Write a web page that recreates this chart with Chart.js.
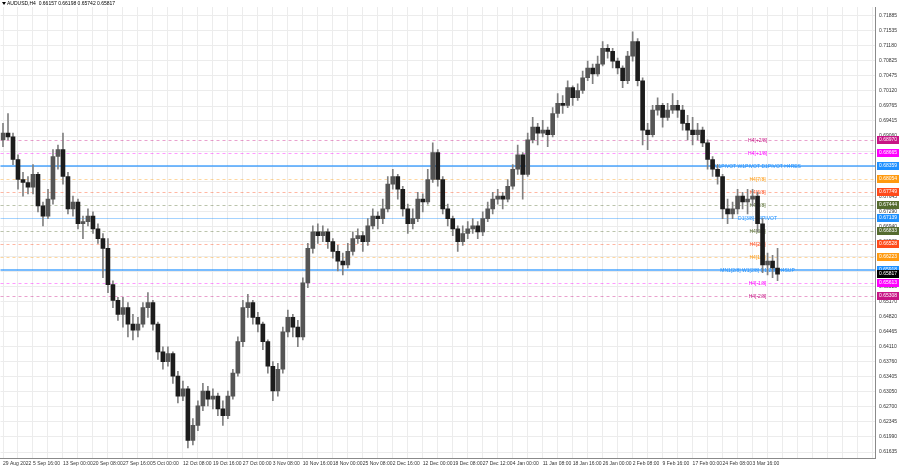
<!DOCTYPE html>
<html>
<head>
<meta charset="utf-8">
<script src="https://cdn.jsdelivr.net/npm/chart.js@4.4.1/dist/chart.umd.min.js"></script>
<style>
html, body { margin: 0; padding: 0; background: #fff; }
canvas { display: block; }
</style>
</head>
<body>
<canvas id="chart" width="900" height="468"></canvas>
<script>
// header line of the terminal window
const symbolTitle = 'AUDUSD,H4  0.66157 0.66198 0.65742 0.65817';

// date labels, one every 6 buckets
const dateLabels = ['29 Aug 2022', '5 Sep 16:00', '13 Sep 00:00', '20 Sep 08:00', '27 Sep 16:00',
    '5 Oct 00:00', '12 Oct 08:00', '19 Oct 16:00', '27 Oct 00:00', '3 Nov 08:00', '10 Nov 16:00',
    '18 Nov 00:00', '25 Nov 08:00', '2 Dec 16:00', '12 Dec 00:00', '19 Dec 08:00', '27 Dec 12:00',
    '4 Jan 00:00', '11 Jan 08:00', '18 Jan 16:00', '26 Jan 00:00', '2 Feb 08:00', '9 Feb 16:00',
    '17 Feb 00:00', '24 Feb 08:00', '3 Mar 16:00'];

// price buckets (each one groups a few H4 bars)
const openPrices = [0.6897, 0.6913, 0.6904, 0.6851, 0.6804, 0.6797, 0.6786, 0.6816, 0.6742, 0.6718,
    0.6758, 0.6858, 0.6874, 0.6811, 0.6735, 0.6751, 0.6700, 0.6705, 0.6718, 0.6688,
    0.6665, 0.6642, 0.6557, 0.6520, 0.6487, 0.6503, 0.6464, 0.6450, 0.6464, 0.6503,
    0.6515, 0.6464, 0.6399, 0.6376, 0.6395, 0.6342, 0.6295, 0.6312, 0.6191, 0.6226,
    0.6272, 0.6307, 0.6288, 0.6295, 0.6265, 0.6249, 0.6295, 0.6349, 0.6423, 0.6503,
    0.6515, 0.6480, 0.6464, 0.6423, 0.6365, 0.6307, 0.6358, 0.6446, 0.6480, 0.6457,
    0.6434, 0.6561, 0.6642, 0.6681, 0.6672, 0.6681, 0.6658, 0.6635, 0.6612, 0.6603,
    0.6635, 0.6665, 0.6672, 0.6658, 0.6695, 0.6718, 0.6712, 0.6735, 0.6793, 0.6811,
    0.6781, 0.6735, 0.6700, 0.6712, 0.6758, 0.6751, 0.6804, 0.6867, 0.6804, 0.6735,
    0.6712, 0.6688, 0.6658, 0.6677, 0.6688, 0.6695, 0.6681, 0.6712, 0.6735, 0.6758,
    0.6765, 0.6758, 0.6788, 0.6828, 0.6862, 0.6816, 0.6897, 0.6927, 0.6913, 0.6920,
    0.6909, 0.6959, 0.6983, 0.6978, 0.7020, 0.6996, 0.7013, 0.7043, 0.7066, 0.7052,
    0.7075, 0.7112, 0.7105, 0.7082, 0.7066, 0.7036, 0.7094, 0.7128, 0.7036, 0.6920,
    0.6909, 0.6967, 0.6978, 0.6950, 0.6967, 0.6978, 0.6967, 0.6936, 0.6920, 0.6909,
    0.6920, 0.6890, 0.6851, 0.6828, 0.6811, 0.6735, 0.6723, 0.6735, 0.6765, 0.6751,
    0.6758, 0.6765, 0.6700, 0.6603, 0.6612, 0.6596];
const highPrices = [0.6936, 0.6959, 0.6913, 0.6862, 0.6821, 0.6811, 0.6839, 0.6821, 0.6751, 0.6781,
    0.6874, 0.6885, 0.6913, 0.6821, 0.6765, 0.6758, 0.6718, 0.6735, 0.6728, 0.6700,
    0.6677, 0.6665, 0.6566, 0.6527, 0.6527, 0.6515, 0.6487, 0.6480, 0.6515, 0.6538,
    0.6520, 0.6469, 0.6411, 0.6411, 0.6399, 0.6353, 0.6330, 0.6318, 0.6242, 0.6284,
    0.6325, 0.6318, 0.6312, 0.6302, 0.6284, 0.6307, 0.6358, 0.6434, 0.6520, 0.6534,
    0.6520, 0.6492, 0.6469, 0.6427, 0.6376, 0.6372, 0.6457, 0.6497, 0.6487, 0.6473,
    0.6573, 0.6654, 0.6695, 0.6700, 0.6695, 0.6688, 0.6665, 0.6649, 0.6631, 0.6654,
    0.6681, 0.6688, 0.6681, 0.6712, 0.6735, 0.6728, 0.6758, 0.6811, 0.6828, 0.6816,
    0.6788, 0.6746, 0.6735, 0.6774, 0.6770, 0.6828, 0.6890, 0.6874, 0.6811, 0.6746,
    0.6718, 0.6695, 0.6695, 0.6705, 0.6712, 0.6705, 0.6728, 0.6751, 0.6774, 0.6781,
    0.6774, 0.6804, 0.6839, 0.6885, 0.6867, 0.6913, 0.6950, 0.6936, 0.6943, 0.6927,
    0.6973, 0.7006, 0.7001, 0.7036, 0.7024, 0.7029, 0.7059, 0.7082, 0.7075, 0.7094,
    0.7128, 0.7121, 0.7112, 0.7089, 0.7071, 0.7105, 0.7151, 0.7135, 0.7043, 0.6936,
    0.6978, 0.6996, 0.6983, 0.6983, 0.7006, 0.6990, 0.6978, 0.6955, 0.6950, 0.6936,
    0.6927, 0.6897, 0.6858, 0.6839, 0.6816, 0.6758, 0.6751, 0.6781, 0.6774, 0.6781,
    0.6781, 0.6774, 0.6712, 0.6631, 0.6626, 0.6642];
const lowPrices = [0.6881, 0.6897, 0.6839, 0.6781, 0.6765, 0.6770, 0.6770, 0.6728, 0.6695, 0.6712,
    0.6746, 0.6828, 0.6793, 0.6723, 0.6718, 0.6688, 0.6665, 0.6695, 0.6677, 0.6654,
    0.6573, 0.6538, 0.6503, 0.6473, 0.6457, 0.6434, 0.6427, 0.6434, 0.6457, 0.6480,
    0.6450, 0.6381, 0.6358, 0.6365, 0.6325, 0.6279, 0.6284, 0.6173, 0.6180, 0.6214,
    0.6261, 0.6272, 0.6265, 0.6249, 0.6226, 0.6242, 0.6288, 0.6342, 0.6411, 0.6480,
    0.6464, 0.6446, 0.6404, 0.6349, 0.6284, 0.6295, 0.6349, 0.6434, 0.6434, 0.6411,
    0.6427, 0.6550, 0.6631, 0.6654, 0.6658, 0.6642, 0.6619, 0.6589, 0.6580, 0.6596,
    0.6626, 0.6654, 0.6635, 0.6649, 0.6688, 0.6688, 0.6700, 0.6728, 0.6781, 0.6758,
    0.6718, 0.6677, 0.6688, 0.6705, 0.6728, 0.6746, 0.6797, 0.6788, 0.6723, 0.6695,
    0.6672, 0.6635, 0.6649, 0.6665, 0.6677, 0.6665, 0.6672, 0.6705, 0.6723, 0.6746,
    0.6735, 0.6751, 0.6781, 0.6816, 0.6758, 0.6811, 0.6890, 0.6885, 0.6904, 0.6881,
    0.6904, 0.6950, 0.6959, 0.6973, 0.6978, 0.6990, 0.7006, 0.7036, 0.7029, 0.7047,
    0.7071, 0.7089, 0.7066, 0.7052, 0.7020, 0.7029, 0.7082, 0.7024, 0.6885, 0.6874,
    0.6904, 0.6955, 0.6927, 0.6943, 0.6959, 0.6950, 0.6920, 0.6897, 0.6885, 0.6897,
    0.6881, 0.6828, 0.6811, 0.6793, 0.6712, 0.6700, 0.6712, 0.6723, 0.6735, 0.6723,
    0.6742, 0.6681, 0.6585, 0.6580, 0.6573, 0.6566];
const closePrices = [0.6913, 0.6904, 0.6851, 0.6804, 0.6797, 0.6786, 0.6816, 0.6742, 0.6718, 0.6758,
    0.6858, 0.6874, 0.6811, 0.6735, 0.6751, 0.6700, 0.6705, 0.6718, 0.6688, 0.6665,
    0.6642, 0.6557, 0.6520, 0.6487, 0.6503, 0.6464, 0.6450, 0.6464, 0.6503, 0.6515,
    0.6464, 0.6399, 0.6376, 0.6395, 0.6342, 0.6295, 0.6312, 0.6191, 0.6226, 0.6272,
    0.6307, 0.6288, 0.6295, 0.6265, 0.6249, 0.6295, 0.6349, 0.6423, 0.6503, 0.6515,
    0.6480, 0.6464, 0.6423, 0.6365, 0.6307, 0.6358, 0.6446, 0.6480, 0.6457, 0.6434,
    0.6561, 0.6642, 0.6681, 0.6672, 0.6681, 0.6658, 0.6635, 0.6612, 0.6603, 0.6635,
    0.6665, 0.6672, 0.6658, 0.6695, 0.6718, 0.6712, 0.6735, 0.6793, 0.6811, 0.6781,
    0.6735, 0.6700, 0.6712, 0.6758, 0.6751, 0.6804, 0.6867, 0.6804, 0.6735, 0.6712,
    0.6688, 0.6658, 0.6677, 0.6688, 0.6695, 0.6681, 0.6712, 0.6735, 0.6758, 0.6765,
    0.6758, 0.6788, 0.6828, 0.6862, 0.6816, 0.6897, 0.6927, 0.6913, 0.6920, 0.6909,
    0.6959, 0.6983, 0.6978, 0.7020, 0.6996, 0.7013, 0.7043, 0.7066, 0.7052, 0.7075,
    0.7112, 0.7105, 0.7082, 0.7066, 0.7036, 0.7094, 0.7128, 0.7036, 0.6920, 0.6909,
    0.6967, 0.6978, 0.6950, 0.6967, 0.6978, 0.6967, 0.6936, 0.6920, 0.6909, 0.6920,
    0.6890, 0.6851, 0.6828, 0.6811, 0.6735, 0.6723, 0.6735, 0.6765, 0.6751, 0.6758,
    0.6765, 0.6700, 0.6603, 0.6612, 0.6596, 0.65817];

// right axis tick values
const priceTicks = [0.71885, 0.71535, 0.71180, 0.70825, 0.70475, 0.70120, 0.69765, 0.69415, 0.69060,
    0.68705, 0.68350, 0.67995, 0.67645, 0.67290, 0.66940, 0.66585, 0.66230, 0.65880, 0.65525,
    0.65170, 0.64820, 0.64465, 0.64110, 0.63760, 0.63405, 0.63050, 0.62700, 0.62345, 0.61990, 0.61635];
const priceMin = 0.61495;
const priceMax = 0.72093;

// murrey / pivot levels
const levelValues = [0.68970, 0.68665, 0.68359, 0.68054, 0.67749, 0.67444, 0.67139, 0.66833,
    0.66528, 0.66223, 0.65918, 0.65613, 0.65308];
const levelNames = ['H4[+2/8]', 'H4[+1/8]', 'M1PIVOT W1PIVOT D1PIVOT H4RES', 'H4[7/8]', 'H4[6/8]',
    'H4[5/8]', 'D1[3/8] H4PIVOT', 'H4[3/8]', 'H4[2/8]', 'H4[1/8]', 'MN1[2/8] W1[2/8] D1[2/8] H4SUP',
    'H4[-1/8]', 'H4[-2/8]'];
const lastPrice = 0.65817;

// styles for the levels
const levelColors = ['#c71585', '#ff00ff', '#1e90ff', '#ff9a10', '#ff4a1a', '#556b2f', '#1e90ff',
    '#556b2f', '#ff4a1a', '#ff9a10', '#1e90ff', '#ff00ff', '#c71585'];
const levelLineColors = ['rgba(199,21,133,0.4)', 'rgba(255,0,255,0.4)', 'rgba(30,144,255,0.6)',
    'rgba(255,154,16,0.4)', 'rgba(255,74,26,0.4)', 'rgba(85,107,47,0.4)', 'rgba(30,144,255,0.4)',
    'rgba(85,107,47,0.4)', 'rgba(255,74,26,0.4)', 'rgba(255,154,16,0.4)', 'rgba(30,144,255,0.6)',
    'rgba(255,0,255,0.4)', 'rgba(199,21,133,0.4)'];
const levelSolid = [false, false, true, false, false, false, true, false, false, false, true, false, false];
const levelWidths = [1, 1, 2, 1, 1, 1, 1, 1, 1, 1, 2, 1, 1];

const FONT = '"Liberation Sans", Arial, sans-serif';
const bucketCount = 175;
const labels = [];
for (let i = 0; i < bucketCount; i++) {
    labels.push(i % 6 === 0 && dateLabels[i / 6] ? dateLabels[i / 6] : '');
}

const wickData = highPrices.map((h, i) => [lowPrices[i], h]);
const bodyData = openPrices.map((o, i) => [Math.min(o, closePrices[i]), Math.max(o, closePrices[i])]);
const bodyColors = openPrices.map((o, i) => closePrices[i] >= o ? '#555555' : '#1c1c1c');

const levelsPlugin = {
    id: 'levels',
    beforeDatasetsDraw(chart) {
        const { ctx, chartArea, scales } = chart;
        const y = scales.y;
        ctx.save();
        levelValues.forEach((v, i) => {
            const py = Math.round(y.getPixelForValue(v)) + (levelWidths[i] === 1 ? 0.5 : 0);
            ctx.beginPath();
            ctx.setLineDash(levelSolid[i] ? [] : [3, 3]);
            ctx.strokeStyle = levelLineColors[i];
            ctx.lineWidth = levelWidths[i];
            ctx.moveTo(chartArea.left, py);
            ctx.lineTo(chartArea.right, py);
            ctx.stroke();
        });
        ctx.setLineDash([]);
        ctx.font = '5px ' + FONT;
        ctx.textAlign = 'center';
        ctx.textBaseline = 'middle';
        const lx = scales.x.getPixelForValue(151);
        levelValues.forEach((v, i) => {
            ctx.fillStyle = levelColors[i];
            ctx.fillText(levelNames[i], lx, y.getPixelForValue(v) + 1);
        });
        ctx.restore();
    },
    afterDraw(chart) {
        const { ctx, chartArea, scales } = chart;
        const y = scales.y;
        ctx.save();
        ctx.font = '5px ' + FONT;
        ctx.textBaseline = 'middle';
        ctx.textAlign = 'left';
        const box = (v, color) => {
            const py = Math.round(y.getPixelForValue(v));
            ctx.fillStyle = color;
            ctx.fillRect(chartArea.right + 2, py - 4, chart.width - chartArea.right - 3, 8);
            ctx.fillStyle = '#fff';
            ctx.fillText(v.toFixed(5), chartArea.right + 4, py);
        };
        levelValues.forEach((v, i) => box(v, levelColors[i]));
        box(lastPrice, '#000');
        // title
        ctx.fillStyle = '#000';
        ctx.beginPath();
        ctx.moveTo(2, 2); ctx.lineTo(6, 2); ctx.lineTo(4, 5); ctx.closePath();
        ctx.fill();
        ctx.fillText(symbolTitle, 7, 4);
        ctx.restore();
    }
};

new Chart(document.getElementById('chart'), {
    type: 'bar',
    data: {
        labels: labels,
        datasets: [{
            label: 'range',
            data: wickData,
            backgroundColor: '#808080',
            barThickness: 1,
            grouped: false,
            order: 2
        }, {
            label: 'body',
            data: bodyData,
            backgroundColor: bodyColors,
            barThickness: 4,
            minBarLength: 1,
            grouped: false,
            order: 1
        }]
    },
    options: {
        responsive: false,
        animation: false,
        layout: { padding: 0 },
        plugins: { legend: { display: false }, tooltip: { enabled: false } },
        scales: {
            x: {
                offset: true,
                grid: {
                    offset: false,
                    drawTicks: false,
                    color: c => (c.index % 3 === 0 ? '#ececec' : 'transparent')
                },
                border: { color: '#8a8a8a' },
                ticks: {
                    autoSkip: false,
                    maxRotation: 0,
                    minRotation: 0,
                    align: 'start',
                    padding: 3,
                    color: '#333',
                    font: { size: 5, family: FONT },
                    callback: (v, i) => labels[i]
                },
                afterFit: s => { s.height = 10; }
            },
            y: {
                position: 'right',
                min: priceMin,
                max: priceMax,
                afterBuildTicks: s => { s.ticks = priceTicks.map(v => ({ value: v })); },
                grid: { color: '#ececec', drawTicks: false },
                border: { color: '#8a8a8a' },
                ticks: {
                    padding: 4,
                    color: '#333',
                    font: { size: 5, family: FONT },
                    callback: v => v.toFixed(5)
                },
                afterFit: s => { s.width = 25; }
            }
        }
    },
    plugins: [levelsPlugin]
});
</script>
</body>
</html>
